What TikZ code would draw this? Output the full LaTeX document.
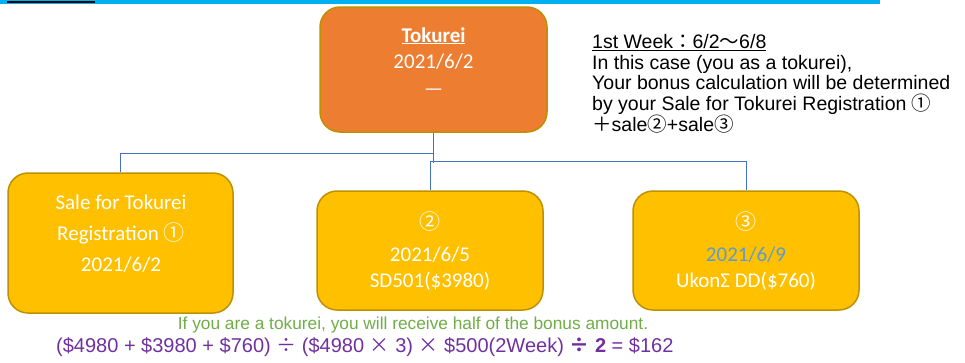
\documentclass[tikz,border=0pt]{standalone}
\usepackage{fontspec}
\setmainfont{Carlito}
\newfontfamily\gothic{Liberation Sans}
\newfontfamily\cjk{Noto Sans CJK JP}
\usepackage{xcolor}
\usepackage{tikz}

\definecolor{barcyan}{HTML}{00B0F0}
\definecolor{tokorange}{HTML}{ED7D31}
\definecolor{salegold}{HTML}{FFC000}
\definecolor{edgegold}{HTML}{BF9000}
\definecolor{linkblue}{HTML}{4472C4}
\definecolor{dateblue}{HTML}{5B9BD5}
\definecolor{notegreen}{HTML}{70AD47}
\definecolor{calcpurple}{HTML}{7030A0}

\tikzset{
    salebox/.style={draw=edgegold, fill=salegold, line width=1.5pt, rounded corners=20pt,
        minimum width=226pt, minimum height=119pt},
    tokbox/.style={salebox, fill=tokorange},
    boxtext/.style={text=white, inner sep=0pt, font=\fontsize{21}{25}\selectfont},
    link/.style={draw=linkblue, line width=1pt},
}

\begin{document}
\begin{tikzpicture}[x=1pt,y=-1pt]
    \useasboundingbox (0,0) rectangle (965,362);
    % Bar along the top edge
    \fill[barcyan] (0,0) rectangle (880,4);
    \fill[black] (7,1) rectangle (95,3);
    % The tokurei and the three sales
    \node[tokbox, minimum width=227pt, minimum height=125pt] (tok) at (433.5,69.5) {};
    \node[salebox, minimum width=225pt, minimum height=140pt] (sale1) at (120.5,243) {};
    \node[salebox] (sale2) at (430,250.5) {};
    \node[salebox] (sale3) at (746,250.5) {};
    % Connectors
    \draw[link] (tok.south) -- ++(0,21) -| (sale1.north);
    \draw[link] (tok.south) -- ++(0,30);
    \draw[link] (sale2.north) -- ++(0,-29) -| (sale3.north);
    % Texts in the tokurei box
    \node[boxtext, anchor=base] (toktitle) at (433.5,42) {\underline{\textbf{Tokurei}}};
    \node[boxtext, anchor=base] (tokdate) at (433.5,68) {2021/6/2};
    \node[boxtext, anchor=base] (tokdash) at (433.5,95) {—};
    % Texts in the first sale
    \node[boxtext, anchor=base] (saleonea) at (121,209) {Sale for Tokurei};
    \node[boxtext, anchor=base] (saleoneb) at (121,240) {Registration {\cjk ①}};
    \node[boxtext, anchor=base] (saleonec) at (121,271) {2021/6/2};
    % Texts in the second sale
    \node[boxtext] (saletwoa) at (430,222) {\cjk ②};
    \node[boxtext, anchor=base] (saletwob) at (430,261) {2021/6/5};
    \node[boxtext, anchor=base] (saletwoc) at (430,287) {SD501(\$3980)};
    % Texts in the third sale
    \node[boxtext] (salethreea) at (746,222) {\cjk ③};
    \node[boxtext, anchor=base, text=dateblue] (salethreeb) at (746,261) {2021/6/9};
    \node[boxtext, anchor=base] (salethreec) at (746,287) {UkonΣ DD(\$760)};
    % Week and rule on the right
    \node[anchor=north west, align=left, inner sep=0pt,
        font=\gothic\fontsize{19.5}{20.8}\selectfont] (rule) at (592,34)
        {\underline{1st Week{\cjk ：}6/2{\cjk ～}6/8}\\
         In this case (you as a tokurei),\\
         Your bonus calculation will be determined\\
         by your Sale for Tokurei Registration {\cjk ①}\\
         {\cjk ＋}sale{\cjk ②}+sale{\cjk ③}};
    % Note and calculation at the bottom
    \node[anchor=base, inner sep=0pt, text=notegreen,
        font=\gothic\fontsize{17.3}{19}\selectfont] (note) at (413,329)
        {If you are a tokurei, you will receive half of the bonus amount.};
    \node[anchor=base west, inner sep=0pt, text=calcpurple,
        font=\gothic\fontsize{20}{22}\selectfont] (calc) at (56,352)
        {(\$4980 + \$3980 + \$760) {\cjk ÷} (\$4980 {\cjk ×} 3) {\cjk ×} \$500(2Week) \textbf{{\cjk ÷} 2} = \$162};
\end{tikzpicture}
\end{document}
